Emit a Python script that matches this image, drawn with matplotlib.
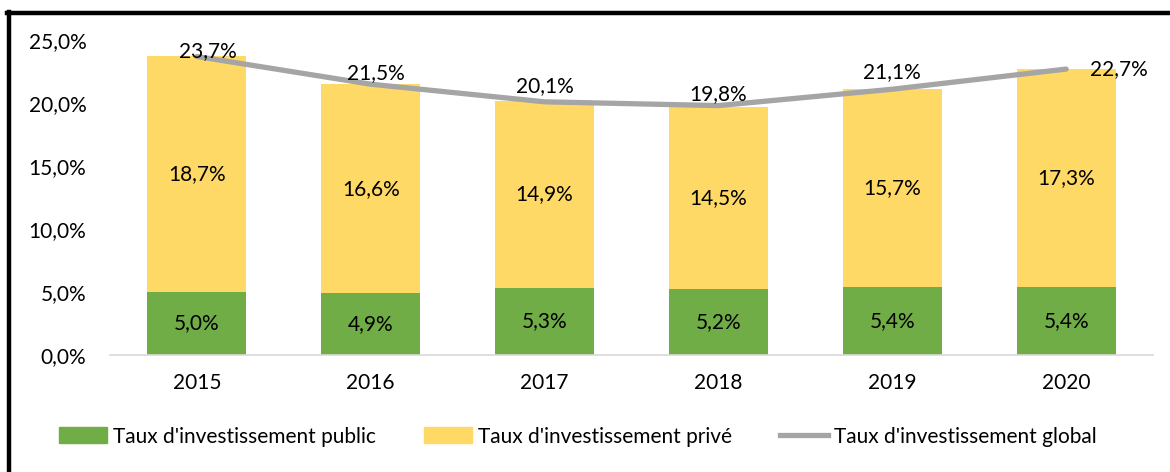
import matplotlib
matplotlib.use("Agg")
import matplotlib.pyplot as plt
from matplotlib.patches import Patch
from matplotlib.lines import Line2D

years = ["2015", "2016", "2017", "2018", "2019", "2020"]
public = [5.0, 4.9, 5.3, 5.2, 5.4, 5.4]
private = [18.7, 16.6, 14.9, 14.5, 15.7, 17.3]
total = [23.7, 21.5, 20.1, 19.8, 21.1, 22.7]
yticks = [0, 5, 10, 15, 20, 25]

GREEN = "#70AD47"
YELLOW = "#FFD966"
GREY = "#A5A5A5"
FS = 15

plt.rcParams["font.family"] = ["Lato", "DejaVu Sans"]


def fr(v):
    return f"{v:.1f}%".replace(".", ",")


fig = plt.figure(figsize=(11.7, 4.72), dpi=100)
ax = fig.add_axes([0.094, 0.248, 0.8915, 0.667])

x = range(len(years))
ax.bar(x, public, width=0.57, color=GREEN, zorder=2)
ax.bar(x, private, width=0.57, bottom=public, color=YELLOW, zorder=2)
ax.plot(x, total, color=GREY, lw=3.8, solid_capstyle="round", zorder=3)

for i in x:
    ax.text(i, public[i] / 2, fr(public[i]), ha="center", va="center", fontsize=FS)
    ax.text(i, public[i] + private[i] / 2, fr(private[i]), ha="center", va="center", fontsize=FS)

# global labels, roughly where Excel put them; the last one sits to the right
offsets = [(8, 4), (4, 8), (0, 11), (0, 8), (0, 12)]
for i in x:
    if i == len(years) - 1:
        ax.annotate(fr(total[i]), (i, total[i]), xytext=(17, 0), textcoords="offset points",
                    ha="left", va="center", fontsize=FS)
    else:
        dx, dy = offsets[i]
        ax.annotate(fr(total[i]), (i, total[i]), xytext=(dx, dy), textcoords="offset points",
                    ha="center", va="center", fontsize=FS)

ax.set_xlim(-0.5, len(years) - 0.5)
ax.set_ylim(0, 25)
ax.set_yticks(yticks)
ax.set_yticklabels([fr(v) for v in yticks])
ax.set_xticks(list(x))
ax.set_xticklabels(years)
ax.tick_params(length=0, labelsize=FS, pad=13)
ax.tick_params(axis="y", pad=17)
for s in ["top", "right", "left"]:
    ax.spines[s].set_visible(False)
ax.spines["bottom"].set_color("#D9D9D9")
ax.spines["bottom"].set_linewidth(1.2)

handles = [
    Patch(color=GREEN, label="Taux d'investissement public"),
    Patch(color=YELLOW, label="Taux d'investissement privé"),
    Line2D([], [], color=GREY, lw=3.8, label="Taux d'investissement global"),
]
fig.legend(handles=handles, loc="center", bbox_to_anchor=(0.494, 0.075), ncol=3,
           frameon=False, fontsize=15, handlelength=2.3, handleheight=0.8,
           handletextpad=0.3, columnspacing=2.3)

# black frame (top and left edges visible in the crop)
fig.add_artist(Line2D([0.006, 1.0], [0.972, 0.972], color="black", lw=3.2, transform=fig.transFigure))
fig.add_artist(Line2D([0.0077, 0.0077], [0.0, 0.975], color="black", lw=3.2, transform=fig.transFigure))

fig.savefig("out.png", dpi=100)
